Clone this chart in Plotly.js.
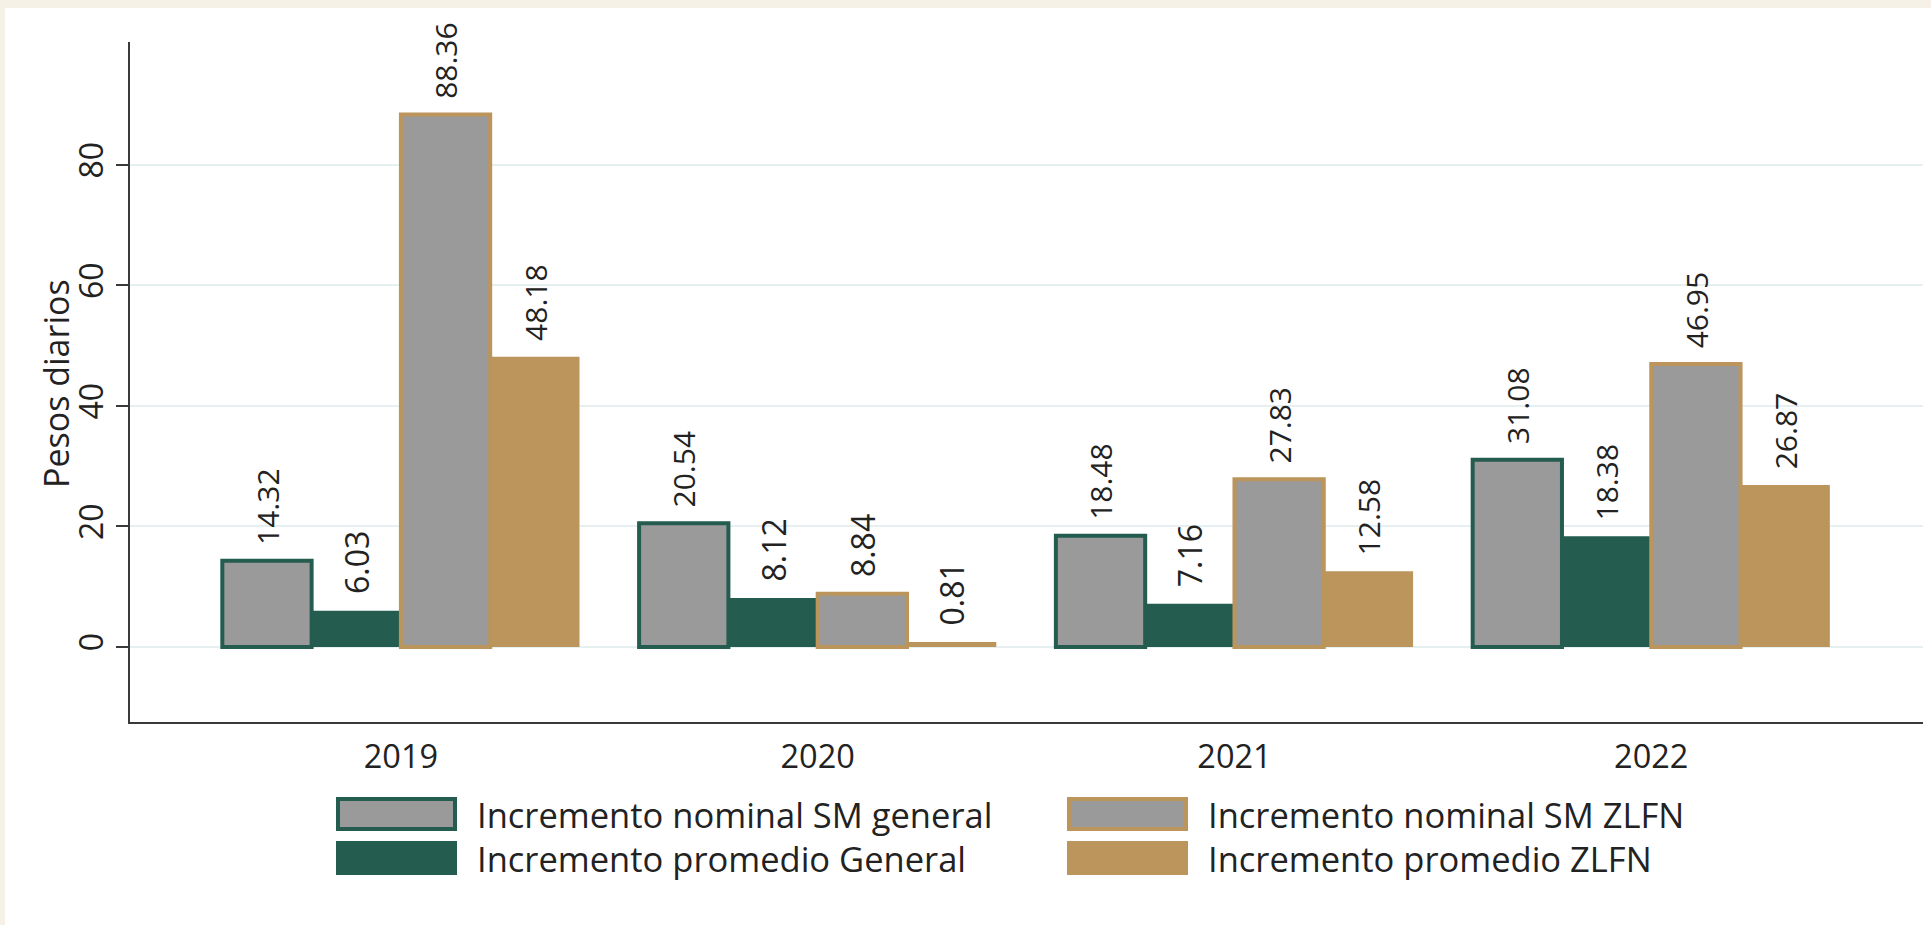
<!DOCTYPE html>
<html>
<head>
<meta charset="utf-8">
<script src="https://cdn.plot.ly/plotly-3.0.1.min.js"></script>
<style>
  html, body { margin: 0; padding: 0; background: #f6f1e6; }
  #panel { position: absolute; left: 5px; top: 8px; width: 1926px; height: 917px; background: #ffffff; }
  #chart { position: absolute; left: 0; top: 0; width: 1931px; height: 925px; }
</style>
</head>
<body>
<div id="panel"></div>
<div id="chart"></div>
<script>
// ---- data ----
const years = ["2019", "2020", "2021", "2022"];
const seriesNames = [
  "Incremento nominal SM general",
  "Incremento promedio General",
  "Incremento nominal SM ZLFN",
  "Incremento promedio ZLFN"
];
const nominalGeneral = [14.32, 20.54, 18.48, 31.08];
const promedioGeneral = [6.03, 8.12, 7.16, 18.38];
const nominalZLFN = [88.36, 8.84, 27.83, 46.95];
const promedioZLFN = [48.18, 0.81, 12.58, 26.87];
const yTicks = [0, 20, 40, 60, 80];
const yTitle = "Pesos diarios";

// ---- style ----
const GRAY = "#9a9a9a", GREEN = "#245c4f", TAN = "#bb955c";
const FONT = "Open Sans, sans-serif";
const W = 1931, H = 925;
const M = {l: 130, r: 8, t: 42, b: 203};

const lbl = {size: 32, color: "#222222", family: FONT};
function mkTrace(name, vals, fill, lineColor, lineW) {
  return {
    type: "bar", name: name, x: years, y: vals,
    marker: {color: fill, line: {color: lineColor, width: lineW}},
    text: vals.map(v => v.toFixed(2)),
    texttemplate: "\u00a0\u2009%{text}",
    textposition: "outside", textangle: -90,
    textfont: lbl, cliponaxis: false, showlegend: false,
    hoverinfo: "x+y"
  };
}
const traces = [
  mkTrace(seriesNames[0], nominalGeneral, GRAY, GREEN, 4),
  mkTrace(seriesNames[1], promedioGeneral, GREEN, GREEN, 0),
  mkTrace(seriesNames[2], nominalZLFN, GRAY, TAN, 4),
  mkTrace(seriesNames[3], promedioZLFN, TAN, TAN, 0)
];

// custom legend (layout elements, pixel -> paper conversion)
const pw = W - M.l - M.r, ph = H - M.t - M.b;
const px = x => (x - M.l) / pw;
const py = y => (H - M.b - y) / ph;
const legendItems = [
  {name: seriesNames[0], fill: GRAY, line: GREEN, col: 0, row: 0},
  {name: seriesNames[2], fill: GRAY, line: TAN, col: 1, row: 0},
  {name: seriesNames[1], fill: GREEN, line: null, col: 0, row: 1},
  {name: seriesNames[3], fill: TAN, line: null, col: 1, row: 1}
];
const colX = [336, 1067], boxW = 121, rowY = [797, 841], boxH = 34, textGap = 18;
const shapes = [], annotations = [];
legendItems.forEach(it => {
  const x0 = colX[it.col], y0 = rowY[it.row];
  const inset = it.line ? 2 : 0;
  shapes.push({
    type: "rect", xref: "paper", yref: "paper",
    x0: px(x0 + inset), x1: px(x0 + boxW - inset),
    y0: py(y0 + boxH - inset), y1: py(y0 + inset),
    fillcolor: it.fill,
    line: {color: it.line || it.fill, width: it.line ? 4 : 0}
  });
  annotations.push({
    xref: "paper", yref: "paper", x: px(x0 + boxW + textGap), y: py(y0 + boxH / 2),
    xanchor: "left", yanchor: "middle", showarrow: false,
    text: it.name, font: {size: 34.5, color: "#222222", family: FONT}
  });
});
// y-axis title placed as rotated annotation
annotations.push({
  xref: "paper", yref: "paper", x: px(56), y: py(384),
  xanchor: "center", yanchor: "middle", showarrow: false, textangle: -90,
  text: yTitle, font: {size: 34, color: "#222222", family: FONT}
});

const layout = {
  width: W, height: H,
  margin: M,
  paper_bgcolor: "rgba(0,0,0,0)",
  plot_bgcolor: "rgba(0,0,0,0)",
  font: {family: FONT, color: "#222222"},
  barmode: "group", bargap: 0.143, bargroupgap: 0,
  showlegend: false,
  xaxis: {
    type: "category", range: [-0.65, 3.652],
    showline: true, linecolor: "#3a3a3a", linewidth: 2,
    ticks: "", showgrid: false, zeroline: false,
    tickfont: {size: 32.5, color: "#222222", family: FONT},
    ticklabelstandoff: 5
  },
  yaxis: {
    range: [-12.45, 100.41],
    tickvals: yTicks, ticktext: yTicks.map(String),
    tickangle: -90,
    showline: true, linecolor: "#3a3a3a", linewidth: 2,
    ticks: "outside", ticklen: 12, tickwidth: 2, tickcolor: "#3a3a3a",
    showgrid: true, gridcolor: "#e6f0f1", gridwidth: 2,
    zeroline: false,
    tickfont: {size: 32, color: "#222222", family: FONT}
  },
  shapes: shapes,
  annotations: annotations
};

Plotly.newPlot("chart", traces, layout, {displayModeBar: false, staticPlot: true});
</script>
</body>
</html>
